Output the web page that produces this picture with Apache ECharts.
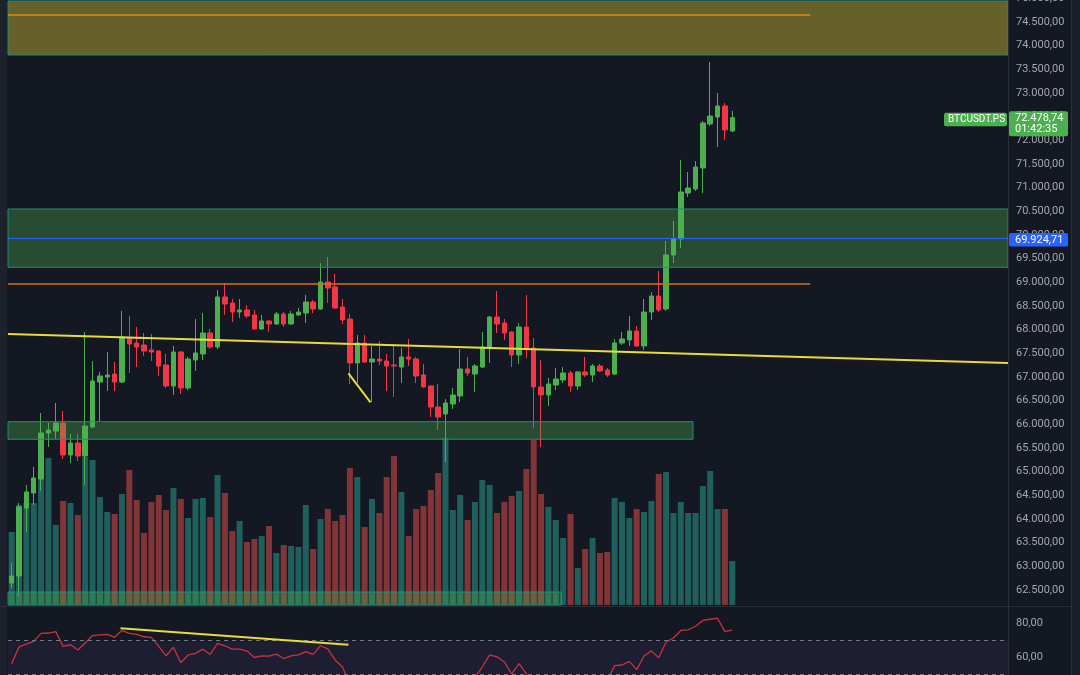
<!DOCTYPE html>
<html>
<head>
<meta charset="utf-8">
<title>BTCUSDT.PS</title>
<script src="https://cdn.jsdelivr.net/npm/echarts@6/dist/echarts.min.js"></script>
<style>
  html, body { margin: 0; padding: 0; background: #141823; }
  #chart { width: 1080px; height: 675px; }
</style>
</head>
<body>
<div id="chart"></div>
<script>
// K线数据 (每根蜡烛的开/收/低/高)
var opens = [
  62648, 62796, 64232, 64549, 64845, 65817, 65859, 66028, 65352, 65606,
  65331, 65944, 66894, 67000, 67063, 66894, 67824, 67718, 67676, 67571,
  67549, 67254, 66810, 67528, 66768, 67359, 67486, 67930, 67634, 68690,
  68564, 68373, 68416, 68310, 68014, 68183, 68120, 68331, 68120, 68310,
  68352, 68585, 68437, 69007, 68902, 68479, 68225, 67296, 67718, 67317,
  67380, 67338, 67254, 67211, 67423, 67380, 67042, 66810, 66366, 66218,
  66430, 66599, 67169, 67063, 67211, 67634, 68268, 68141, 67951, 67465,
  68057, 67613, 66789, 66620, 66831, 66937, 67085, 66810, 67106, 67042,
  67233, 67148, 67063, 67718, 67782, 67972, 67655, 68373, 68711, 68437,
  69578, 69916, 70887, 70972, 71416, 72345, 72493, 72726, 72197
];
var closes = [
  62796, 64254, 64571, 64866, 65817, 65880, 66028, 65352, 65606, 65331,
  65965, 66916, 67021, 67042, 66894, 67845, 67697, 67634, 67549, 67528,
  67233, 66810, 67528, 66768, 67380, 67507, 67930, 67634, 68690, 68542,
  68373, 68416, 68289, 68014, 68183, 68120, 68331, 68120, 68331, 68373,
  68585, 68437, 69007, 68880, 68458, 68204, 67296, 67718, 67317, 67380,
  67338, 67233, 67233, 67423, 67380, 67021, 66789, 66366, 66155, 66451,
  66620, 67169, 67085, 67233, 67634, 68268, 68120, 67930, 67465, 68057,
  67613, 66789, 66620, 66852, 66958, 67085, 66810, 67106, 67042, 67233,
  67127, 67042, 67718, 67803, 67972, 67655, 68373, 68711, 68416, 69578,
  69916, 70909, 70993, 71437, 72366, 72514, 72726, 72219, 72478.74
];
var lows = [
  62542, 62373, 63725, 64296, 64592, 65521, 65690, 65268, 65183, 65225,
  64718, 65923, 66071, 66704, 66704, 66873, 67085, 67211, 67444, 67338,
  67021, 66768, 66620, 66641, 66725, 67127, 67359, 67592, 67592, 68310,
  68162, 68247, 68247, 68000, 67993, 67951, 68099, 68057, 68099, 68289,
  68141, 68352, 68416, 68564, 68437, 68120, 66852, 66873, 67296, 66472,
  67254, 66704, 66578, 66873, 67233, 66873, 66768, 66155, 65880, 65204,
  66324, 66472, 67021, 66683, 67190, 67296, 67930, 67782, 67211, 67275,
  67402, 65923, 65521, 66387, 66725, 66873, 66683, 66725, 67000, 66894,
  67106, 67000, 67042, 67676, 67655, 67634, 67571, 68204, 68373, 68395,
  69409, 69726, 70803, 70930, 70887, 72303, 71859, 72007, 72176
];
var highs = [
  63070, 64338, 64718, 65099, 66240, 66028, 66451, 66282, 65796, 65796,
  67951, 67338, 67106, 67528, 67317, 68395, 68289, 68056, 67930, 67909,
  67560, 67486, 67655, 67549, 67423, 68225, 68352, 68014, 68838, 68986,
  68648, 68648, 68521, 68416, 68310, 68204, 68373, 68373, 68395, 68458,
  68733, 68627, 69409, 69535, 69176, 68648, 68331, 67887, 67887, 67655,
  67761, 67486, 67655, 67613, 67803, 67423, 67275, 66831, 66852, 66535,
  66768, 67592, 67423, 67275, 67951, 68289, 68817, 68225, 67972, 68141,
  68733, 67824, 67359, 66979, 67190, 67211, 67127, 67127, 67423, 67275,
  67275, 67190, 67803, 67951, 68289, 68078, 68648, 68796, 69240, 69873,
  70296, 71585, 71331, 71564, 72409, 73655, 73000, 72789, 72620
];
// 成交量
var volumes = [
  73, 100, 102, 102, 132, 147, 80, 104, 102, 90,
  148, 145, 108, 93, 91, 111, 135, 105, 72, 103,
  110, 95, 117, 106, 87, 106, 107, 88, 130, 112,
  74, 84, 63, 66, 69, 79, 52, 60, 59, 58,
  100, 56, 86, 96, 84, 90, 137, 128, 78, 106,
  92, 128, 149, 113, 69, 96, 99, 115, 132, 167,
  95, 110, 85, 103, 125, 120, 92, 103, 109, 114,
  136, 165, 111, 98, 85, 67, 91, 37, 56, 67,
  52, 53, 107, 103, 87, 96, 93, 104, 131, 133,
  92, 103, 92, 92, 119, 134, 96, 96, 44
];
// RSI
var rsi = [
  56.4, 66.2, 67.9, 69.5, 74.2, 74.4, 75.2, 66.5, 67.5, 64.4,
  68.5, 72.9, 73.3, 73.6, 71.9, 76.0, 74.2, 73.6, 72.2, 71.8,
  66.5, 61.0, 66.0, 56.9, 61.5, 62.4, 64.9, 61.8, 68.3, 66.9,
  64.9, 64.9, 63.8, 60.0, 61.0, 60.8, 62.0, 59.4, 61.0, 61.5,
  63.4, 61.8, 66.9, 65.1, 58.4, 54.4, 44.0, 47.0, 43.5, 44.0,
  43.5, 42.5, 42.3, 44.5, 44.0, 41.0, 39.0, 35.5, 33.0, 37.0,
  39.0, 45.0, 44.5, 48.2, 54.4, 61.5, 60.4, 57.4, 50.3, 56.4,
  50.3, 42.0, 40.0, 43.0, 44.5, 46.0, 43.5, 46.5, 47.0, 49.8,
  48.0, 46.5, 55.2, 55.6, 57.7, 52.9, 60.9, 63.9, 59.8, 69.1,
  71.5, 75.9, 76.3, 78.4, 81.8, 82.5, 83.1, 75.2, 76.3
];

// 画线 / 区域 (价格)
var zoneTop = [73803, 74944];
var zoneMid = [69318, 70549];
var zoneLow = [65684, 66056];
var zoneVol = [62183, 62458];
var orangeLevels = [74663, 68965];
var bluePrice = 69924.71;
var lastPrice = 72478.74;
var trendMain = [[-0.5, 67909], [135.5, 67296]];
var trendShort = [[45.8, 67078], [48.8, 66466]];
var rsiTrend = [[14.8, 77.2], [45.8, 67.5]];
var rsiLevels = [70, 50];
var rsiBand = [30, 70];
var rsiTicks = [60, 80];
var symbolName = 'BTCUSDT.PS';
var countdown = '01:42:35';

var upColor = '#4caf50';
var downColor = '#f23645';
var font = 'Roboto, "Noto Sans", sans-serif';

function fmt (v) {
    var s = v.toFixed(2).split('.');
    return s[0].replace(/\B(?=(\d{3})+(?!\d))/g, '.') + ',' + s[1];
}

var candleData = opens.map(function (o, i) {
    return [i, o, closes[i], lows[i], highs[i]];
});
var volData = volumes.map(function (v, i) {
    return {
        value: [i, v],
        itemStyle: { color: closes[i] >= opens[i] ? '#1f5f5c' : '#823539' }
    };
});
var rsiData = rsi.map(function (v, i) { return [i, v]; });

var zoneStyle = { color: 'rgba(76,175,80,0.35)', borderColor: '#1e8e7e', borderWidth: 1 };

function xAxisFor (idx) {
    return { type: 'value', gridIndex: idx, min: -0.5, max: 135.5, show: false };
}

var chart = echarts.init(document.getElementById('chart'));

var option = {
    backgroundColor: '#141823',
    animation: false,
    grid: [
        { left: 8, width: 1000, top: -1.67, height: 615.33, outerBoundsMode: 'none' },
        { left: 8, width: 1000, top: 430, height: 175, outerBoundsMode: 'none' },
        { left: 8, width: 1000, top: 589.5, height: 102, outerBoundsMode: 'none' }
    ],
    xAxis: [xAxisFor(0), xAxisFor(1), xAxisFor(2)],
    yAxis: [
        {
            type: 'value', gridIndex: 0, position: 'right',
            min: 62000, max: 75000, interval: 500,
            axisLine: { show: false }, axisTick: { show: false }, splitLine: { show: false },
            axisLabel: {
                color: '#a3a6af', fontSize: 11, fontFamily: font, margin: 8,
                formatter: function (v) { return v < 62500 ? '' : fmt(v); }
            }
        },
        { type: 'value', gridIndex: 1, min: 0, max: 175, show: false },
        {
            type: 'value', gridIndex: 2, position: 'right',
            min: 40, max: 100, interval: 20,
            axisLine: { show: false }, axisTick: { show: false }, splitLine: { show: false },
            axisLabel: {
                color: '#a3a6af', fontSize: 11, fontFamily: font, margin: 8,
                formatter: function (v) { return rsiTicks.indexOf(v) >= 0 ? fmt(v) : ''; }
            }
        }
    ],
    series: [
        {
            name: 'volume', type: 'bar', xAxisIndex: 1, yAxisIndex: 1,
            barWidth: 6, data: volData, z: 1
        },
        {
            name: 'price', type: 'candlestick', xAxisIndex: 0, yAxisIndex: 0,
            barWidth: 5, data: candleData, z: 2,
            itemStyle: {
                color: upColor, color0: downColor,
                borderColor: upColor, borderColor0: downColor, borderWidth: 1
            }
        },
        {
            // 区域和画线
            name: 'drawings', type: 'line', xAxisIndex: 0, yAxisIndex: 0, data: [], z: 3,
            markArea: {
                silent: true, z: 3,
                data: [
                    [{ coord: [-0.5, zoneTop[1]], itemStyle: { color: 'rgba(255,235,59,0.35)', borderColor: '#1e8e7e', borderWidth: 1 } }, { coord: [135.5, zoneTop[0]] }],
                    [{ coord: [-0.5, zoneMid[1]], itemStyle: zoneStyle }, { coord: [135.5, zoneMid[0]] }],
                    [{ coord: [-0.5, zoneLow[1]], itemStyle: zoneStyle }, { coord: [92.66, zoneLow[0]] }],
                    [{ coord: [-0.5, zoneVol[1]], itemStyle: zoneStyle }, { coord: [74.8, zoneVol[0]] }]
                ]
            },
            markLine: {
                silent: true, symbol: 'none', z: 5,
                label: { show: false },
                data: [
                    [{ coord: [-0.5, orangeLevels[0]], lineStyle: { color: '#e08a1e', width: 1.5, type: 'solid' } }, { coord: [108.6, orangeLevels[0]] }],
                    [{ coord: [-0.5, orangeLevels[1]], lineStyle: { color: '#d4701e', width: 1.5, type: 'solid' } }, { coord: [108.6, orangeLevels[1]] }],
                    [{ coord: [-0.5, bluePrice], lineStyle: { color: '#2962ff', width: 1, type: 'solid' } }, { coord: [135.5, bluePrice] }],
                    [{ coord: trendMain[0], lineStyle: { color: '#e6dd3b', width: 2, type: 'solid' } }, { coord: trendMain[1] }],
                    [{ coord: trendShort[0], lineStyle: { color: '#e6dd3b', width: 2, type: 'solid' } }, { coord: trendShort[1] }]
                ]
            }
        },
        {
            name: 'RSI', type: 'line', xAxisIndex: 2, yAxisIndex: 2, data: rsiData,
            showSymbol: false, z: 4,
            lineStyle: { color: '#c8323f', width: 1.3 },
            markArea: {
                silent: true, z: 1,
                itemStyle: { color: 'rgba(126,87,194,0.1)' },
                data: [[{ coord: [-0.5, rsiBand[1]] }, { coord: [135.5, rsiBand[0]] }]]
            },
            markLine: {
                silent: true, symbol: 'none',
                label: { show: false },
                data: [
                    { yAxis: rsiLevels[0], lineStyle: { color: '#787b86', type: [4, 4], width: 1 } },
                    { yAxis: rsiLevels[1], lineStyle: { color: '#787b86', type: [4, 4], width: 1 } },
                    [{ coord: rsiTrend[0], lineStyle: { color: '#e6dd3b', width: 2, type: 'solid' } }, { coord: rsiTrend[1] }]
                ]
            }
        }
    ]
};

chart.setOption(option);

// 坐标轴上的价格标签
var yLast = chart.convertToPixel({ yAxisIndex: 0 }, lastPrice);
var yBlue = chart.convertToPixel({ yAxisIndex: 0 }, bluePrice);
var txt = function (s, x, y, size) {
    return {
        type: 'text', z: 101,
        style: { text: s, x: x, y: y, fill: '#ffffff', font: (size || 11) + 'px ' + font, align: 'left', verticalAlign: 'middle' }
    };
};

chart.setOption({
    graphic: [
        { type: 'rect', z: 100, shape: { x: 0, y: 0, width: 7, height: 675 }, style: { fill: '#1e222d' } },
        { type: 'rect', z: 100, shape: { x: 1072, y: 0, width: 8, height: 675 }, style: { fill: '#1a1e29' } },
        { type: 'line', z: 100, shape: { x1: 1008.5, y1: 0, x2: 1008.5, y2: 675 }, style: { stroke: '#2a2e39', lineWidth: 1 } },
        { type: 'line', z: 100, shape: { x1: 1071.5, y1: 0, x2: 1071.5, y2: 675 }, style: { stroke: '#2a2e39', lineWidth: 1 } },
        { type: 'line', z: 100, shape: { x1: 0, y1: 606.5, x2: 1072, y2: 606.5 }, style: { stroke: '#2a2e39', lineWidth: 1 } },
        { type: 'rect', z: 100, shape: { x: 1009, y: yLast - 6.5, width: 59, height: 25, r: 2 }, style: { fill: upColor } },
        txt(fmt(lastPrice), 1015, yLast + 1),
        txt(countdown, 1015, yLast + 12),
        { type: 'rect', z: 100, shape: { x: 944, y: yLast - 5, width: 63, height: 13.5, r: 2 }, style: { fill: upColor } },
        txt(symbolName, 948, yLast + 2, 10),
        { type: 'rect', z: 100, shape: { x: 1009, y: yBlue - 5.5, width: 59, height: 13.5, r: 2 }, style: { fill: '#2962ff' } },
        txt(fmt(bluePrice), 1015, yBlue + 1.3)
    ]
});
</script>
</body>
</html>
